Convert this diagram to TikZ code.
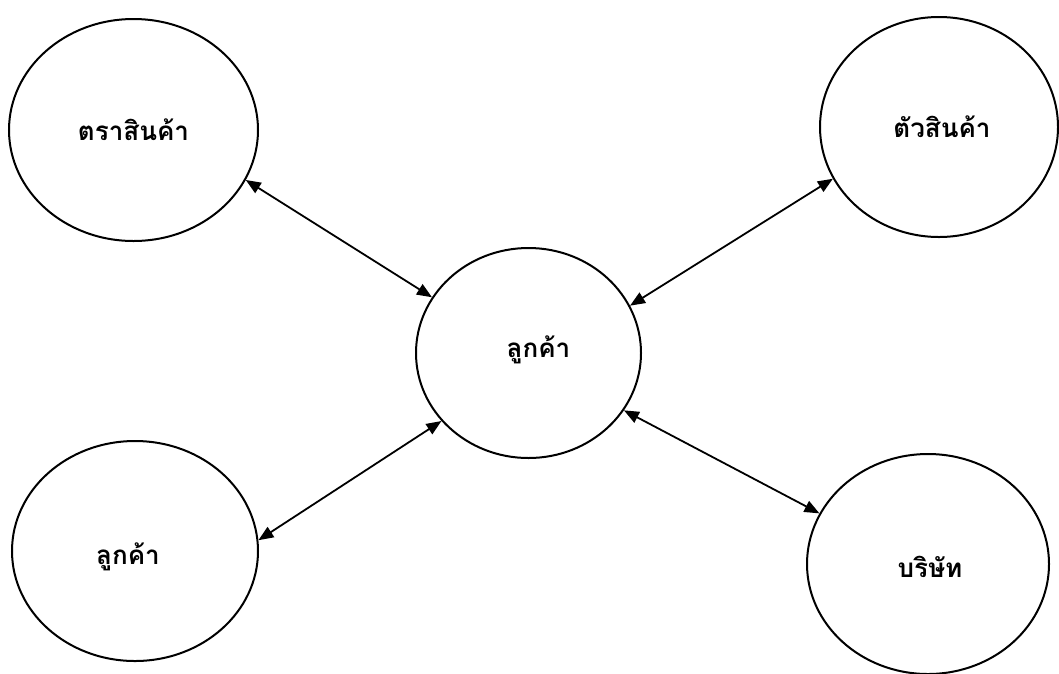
\documentclass[tikz,border=0pt]{standalone}
\usepackage{fontspec}
\newfontfamily\thaifont[Script=Thai]{Loma}
\usetikzlibrary{shapes.geometric,arrows.meta}
\begin{document}
\begin{tikzpicture}[x=1pt,y=-1pt,
  bubble/.style={draw,line width=2pt,ellipse,inner sep=0pt},
  label/.style={font=\thaifont\bfseries\fontsize{26}{30}\selectfont},
  link/.style={line width=1.8pt,{Triangle[length=15pt,width=12pt]}-{Triangle[length=15pt,width=12pt]}}]
  \useasboundingbox (0,0) rectangle (1059,673);
  \fill[white] (0,0) rectangle (1059,673);
  % circles
  \node[bubble,minimum width=249pt,minimum height=222pt] (brand) at (133.5,130) {};
  \node[bubble,minimum width=238pt,minimum height=220pt] (product) at (939,127) {};
  \node[bubble,minimum width=225pt,minimum height=210pt] (cust) at (528.5,353) {};
  \node[bubble,minimum width=246pt,minimum height=220pt] (cust2) at (135,551) {};
  \node[bubble,minimum width=242pt,minimum height=220pt] (firm) at (928,564) {};
  % labels
  \node[label] at (brand) {ตราสินค้า};
  \node[label] at ([xshift=3pt]product.center) {ตัวสินค้า};
  \node[label] at ([xshift=10pt,yshift=3pt]cust.center) {ลูกค้า};
  \node[label] at ([xshift=-7pt,yshift=-6pt]cust2.center) {ลูกค้า};
  \node[label] at ([xshift=2pt,yshift=-3pt]firm.center) {บริษัท};
  % two-way links
  \draw[link] (brand.-24.5) -- (cust.150.4);
  \draw[link] (product.-154.3) -- (cust.25);
  \draw[link] (cust2.5) -- (cust.218.7);
  \draw[link] (firm.155.6) -- (cust.-31);
\end{tikzpicture}
\end{document}
